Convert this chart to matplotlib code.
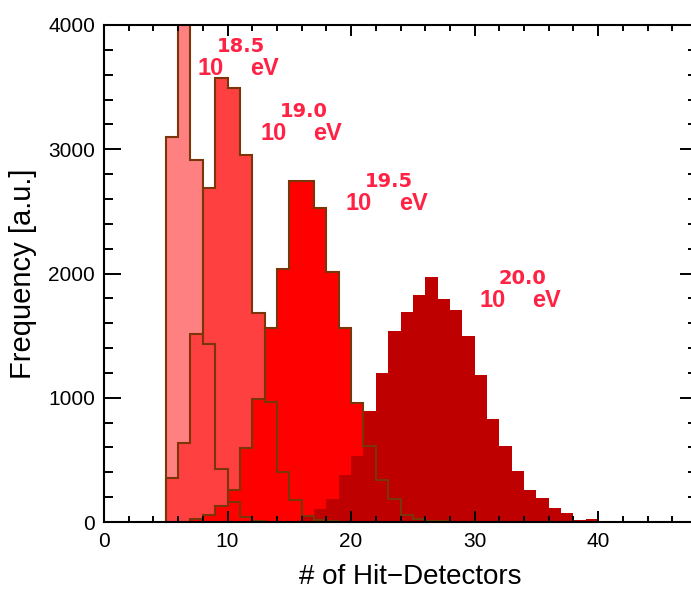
import numpy as np
import matplotlib
matplotlib.use("Agg")
import matplotlib.pyplot as plt
from matplotlib.ticker import MultipleLocator

plt.rcParams['font.family'] = ['Liberation Sans', 'DejaVu Sans']

# bin contents, one entry per unit-wide bin starting at the given left edge
start_185 = 5
counts_185 = [3100, 4250, 2915, 1430, 424, 164, 43, 8]
start_190 = 5
counts_190 = [352, 638, 1510, 2690, 3576, 3495, 2950, 1685, 968, 405, 180, 45, 16, 5]
start_195 = 7
counts_195 = [24, 56, 129, 258, 595, 990, 1559, 2040, 2744, 2744, 2525, 2012,
              1559, 957, 610, 340, 187, 56, 28, 10, 5]
start_200 = 14
counts_200 = [3, 12, 40, 105, 183, 378, 528, 895, 1197, 1535, 1687, 1830, 1970,
              1796, 1703, 1500, 1180, 832, 613, 411, 255, 190, 112, 70, 14, 22]

energies = ["18.5", "19.0", "19.5", "20.0"]
fills = ["#ff8080", "#ff4040", "#ff0000", "#be0000"]
outline = "#7a3508"
label_pos = [(7.55, 3650), (12.65, 3127), (19.56, 2563), (30.39, 1783)]

hists = [(start_185, counts_185), (start_190, counts_190),
         (start_195, counts_195), (start_200, counts_200)]

fig = plt.figure(figsize=(6.91, 5.89), dpi=100)
ax = fig.add_axes([104/691, 67/589, 593/691, 497/589])

# fills first, 20.0 on top of the rest
for (s, c), col in zip(hists, fills):
    edges = np.arange(s, s + len(c) + 1)
    ax.stairs(c, edges, fill=True, color=col, lw=0)

# outlines for the three lower energies on top of all fills
for s, c in hists[:3]:
    edges = np.arange(s, s + len(c) + 1)
    ax.stairs(c, edges, fill=False, baseline=0, color=outline, lw=1.5)

txtcol = "#ff2244"
for (x, y), e in zip(label_pos, energies):
    ax.annotate("10", (x, y), ha="left", va="center", fontsize=17,
                fontweight="bold", color=txtcol)
    ax.annotate(e, (x, y), xytext=(14.0, 16.0), textcoords="offset points",
                ha="left", va="center", fontsize=14, fontweight="bold",
                color=txtcol, family="DejaVu Sans")
    ax.annotate("eV", (x, y), xytext=(38.2, 0), textcoords="offset points",
                ha="left", va="center", fontsize=17, fontweight="bold",
                color=txtcol)

ax.set_xlim(0, 48)
ax.set_ylim(0, 4000)
ax.xaxis.set_major_locator(MultipleLocator(10))
ax.xaxis.set_minor_locator(MultipleLocator(2))
ax.yaxis.set_major_locator(MultipleLocator(1000))
ax.yaxis.set_minor_locator(MultipleLocator(200))
ax.tick_params(which="both", direction="in", top=True, right=True, width=1.4,
               labelsize=15)
ax.tick_params(axis="x", which="major", length=8, pad=7)
ax.tick_params(axis="x", which="minor", length=4)
ax.tick_params(axis="y", which="major", length=12, pad=6.5)
ax.tick_params(axis="y", which="minor", length=6.5)
for sp in ax.spines.values():
    sp.set_linewidth(1.5)

ax.set_xlabel("# of Hit\u2212Detectors", fontsize=20)
ax.set_ylabel("Frequency [a.u.]", fontsize=21)
ax.xaxis.set_label_coords(0.516, -0.085)
ax.yaxis.set_label_coords(-0.113, 0.5)

fig.savefig("out.png", dpi=100)
